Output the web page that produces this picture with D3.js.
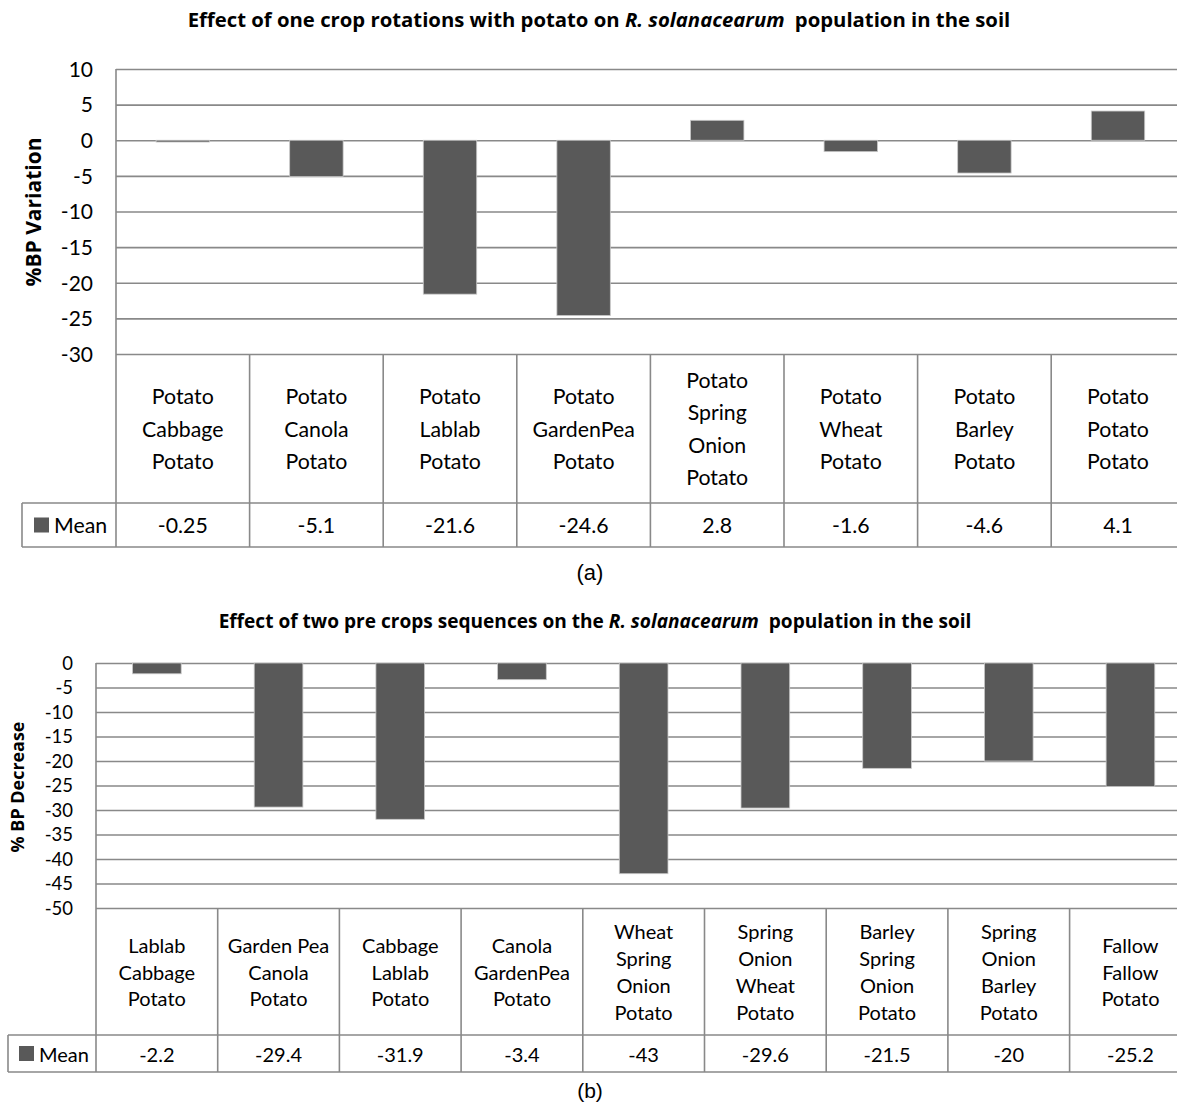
<!DOCTYPE html>
<html>
<head>
<meta charset="utf-8">
<script src="https://cdn.jsdelivr.net/npm/d3@7"></script>
<style>
  html, body { margin: 0; padding: 0; background: #fff; }
  svg { display: block; }
  text { fill: #000; }
</style>
</head>
<body>
<svg id="chart" width="1177" height="1107"></svg>
<script>
// ---------- DATA ----------
const topCategories = [
  "Potato\nCabbage\nPotato",
  "Potato\nCanola\nPotato",
  "Potato\nLablab\nPotato",
  "Potato\nGardenPea\nPotato",
  "Potato\nSpring\nOnion\nPotato",
  "Potato\nWheat\nPotato",
  "Potato\nBarley\nPotato",
  "Potato\nPotato\nPotato"
];
const topValues = [-0.25, -5.1, -21.6, -24.6, 2.8, -1.6, -4.6, 4.1];
const topTicks = [10, 5, 0, -5, -10, -15, -20, -25, -30];

const bottomCategories = [
  "Lablab\nCabbage\nPotato",
  "Garden Pea\nCanola\nPotato",
  "Cabbage\nLablab\nPotato",
  "Canola\nGardenPea\nPotato",
  "Wheat\nSpring\nOnion\nPotato",
  "Spring\nOnion\nWheat\nPotato",
  "Barley\nSpring\nOnion\nPotato",
  "Spring\nOnion\nBarley\nPotato",
  "Fallow\nFallow\nPotato"
];
const bottomValues = [-2.2, -29.4, -31.9, -3.4, -43, -29.6, -21.5, -20, -25.2];
const bottomTicks = [0, -5, -10, -15, -20, -25, -30, -35, -40, -45, -50];

const seriesName = "Mean";

// ---------- DRAW ----------
const svg = d3.select("#chart");
const GRID = "#898989";
const BAR = "#595959";
const FONT = "Lato, 'Open Sans', sans-serif";
const BFONT = "'Open Sans', Lato, sans-serif";

function fitWidth(sel, target) {
  const w = sel.node().getComputedTextLength();
  const fs = +sel.attr("font-size");
  if (w > 0) sel.attr("font-size", fs * target / w);
}

function panel(cfg) {
  const g = svg.append("g");
  const x = d3.scaleBand()
    .domain(cfg.categories.map((d, i) => i))
    .range([cfg.left, cfg.left + cfg.step * cfg.categories.length])
    .paddingInner(0.6).paddingOuter(0.3);
  const y = d3.scaleLinear().domain(cfg.yDomain).range([cfg.plotBottom, cfg.plotTop]);
  const right = cfg.left + cfg.step * cfg.categories.length;

  // gridlines + tick labels
  const axis = d3.axisLeft(y).tickValues(cfg.ticks)
    .tickSizeInner(-(right - cfg.left)).tickSizeOuter(0)
    .tickPadding(cfg.tickPad).tickFormat(d => String(d));
  const ag = g.append("g").attr("transform", `translate(${cfg.left},0)`).call(axis);
  ag.select(".domain").remove();
  ag.selectAll(".tick line").attr("stroke", GRID).attr("stroke-width", 1.6);
  ag.selectAll(".tick text").attr("font-family", FONT).attr("font-size", cfg.tickFont)
    .attr("fill", "#000").attr("dy", "0.35em");

  // bars
  g.append("g").selectAll("rect").data(cfg.values).join("rect")
    .attr("x", (d, i) => x(i))
    .attr("width", x.bandwidth())
    .attr("y", d => y(Math.max(0, d)))
    .attr("height", d => Math.abs(y(d) - y(0)))
    .attr("fill", BAR)
    .attr("stroke", "#c9c9c9").attr("stroke-width", 0.8);

  // table lines
  const lines = g.append("g").attr("stroke", GRID).attr("stroke-width", 1.6);
  const hdrTop = cfg.plotBottom;
  lines.append("line").attr("x1", cfg.meanLeft).attr("x2", right).attr("y1", cfg.hdrBottom).attr("y2", cfg.hdrBottom);
  lines.append("line").attr("x1", cfg.meanLeft).attr("x2", right).attr("y1", cfg.meanBottom).attr("y2", cfg.meanBottom);
  lines.append("line").attr("x1", cfg.meanLeft).attr("x2", cfg.meanLeft).attr("y1", cfg.hdrBottom).attr("y2", cfg.meanBottom);
  lines.append("line").attr("x1", cfg.left).attr("x2", cfg.left).attr("y1", cfg.plotTop).attr("y2", cfg.meanBottom);
  cfg.categories.forEach((c, i) => {
    const bx = cfg.left + cfg.step * (i + 1);
    lines.append("line").attr("x1", bx).attr("x2", bx).attr("y1", hdrTop).attr("y2", cfg.meanBottom);
  });

  // category labels
  const cx = i => x(i) + x.bandwidth() / 2;
  const hdrMid = (hdrTop + cfg.hdrBottom) / 2;
  cfg.categories.forEach((c, i) => {
    const parts = c.split("\n");
    const t = g.append("text").attr("text-anchor", "middle")
      .attr("font-family", FONT).attr("font-size", cfg.labelFont);
    parts.forEach((p, k) => {
      t.append("tspan").attr("x", cx(i))
        .attr("y", hdrMid + (k - (parts.length - 1) / 2) * cfg.lineH)
        .attr("dominant-baseline", "central").text(p);
    });
  });

  // mean row
  const meanMid = (cfg.hdrBottom + cfg.meanBottom) / 2;
  cfg.values.forEach((v, i) => {
    g.append("text").attr("x", cx(i)).attr("y", meanMid)
      .attr("text-anchor", "middle").attr("dominant-baseline", "central")
      .attr("font-family", FONT).attr("font-size", cfg.labelFont).text(String(v));
  });
  g.append("rect").attr("x", cfg.legX).attr("y", meanMid - cfg.legS / 2)
    .attr("width", cfg.legS).attr("height", cfg.legS).attr("fill", BAR);
  g.append("text").attr("x", cfg.legX + cfg.legS + 5).attr("y", meanMid)
    .attr("dominant-baseline", "central").attr("font-family", FONT)
    .attr("font-size", cfg.labelFont).text(seriesName);

  // title
  const tt = g.append("text").attr("x", cfg.titleX).attr("y", cfg.titleY)
    .attr("text-anchor", "middle").attr("dominant-baseline", "central")
    .attr("font-family", BFONT).attr("font-weight", "bold").attr("font-size", 18);
  tt.append("tspan").text(cfg.title[0]);
  tt.append("tspan").attr("font-style", "italic").text(cfg.title[1]);
  tt.append("tspan").attr("dx", 5).text(cfg.title[2]);
  fitWidth(tt, cfg.titleW);

  // y title
  const yt = g.append("text").attr("transform", `translate(${cfg.yTitleX},${cfg.yTitleY}) rotate(-90)`)
    .attr("text-anchor", "middle").attr("dominant-baseline", "central")
    .attr("font-family", BFONT).attr("font-weight", "bold").attr("font-size", 18)
    .text(cfg.yTitle);
  fitWidth(yt, cfg.yTitleW);

  // caption
  g.append("text").attr("x", 590).attr("y", cfg.capY)
    .attr("text-anchor", "middle").attr("dominant-baseline", "central")
    .attr("font-family", "'Liberation Sans', Arial, sans-serif").attr("font-size", cfg.capFont)
    .text(cfg.caption);
}

panel({
  categories: topCategories, values: topValues, ticks: topTicks,
  left: 116, step: 133.6, yDomain: [-30, 10], plotTop: 69, plotBottom: 354,
  hdrBottom: 503, meanBottom: 547, meanLeft: 22,
  labelFont: 21.3, lineH: 32.5, tickFont: 21, tickPad: 23,
  legX: 34, legS: 15,
  title: ["Effect of one crop rotations with potato on ", "R. solanacearum", " population in the soil"],
  titleX: 599, titleY: 19, titleW: 818,
  yTitle: "%BP Variation", yTitleX: 33, yTitleY: 212, yTitleW: 149,
  caption: "(a)", capY: 572, capFont: 22
});

panel({
  categories: bottomCategories, values: bottomValues, ticks: bottomTicks,
  left: 96, step: 121.7, yDomain: [-50, 0], plotTop: 663, plotBottom: 908,
  hdrBottom: 1035, meanBottom: 1072, meanLeft: 8,
  labelFont: 20, lineH: 26.8, tickFont: 18.5, tickPad: 23,
  legX: 19, legS: 15,
  title: ["Effect of two pre crops sequences on the ", "R. solanacearum", " population in the soil"],
  titleX: 595, titleY: 621, titleW: 748,
  yTitle: "% BP Decrease", yTitleX: 17, yTitleY: 787, yTitleW: 131,
  caption: "(b)", capY: 1090, capFont: 21
});
</script>
</body>
</html>
